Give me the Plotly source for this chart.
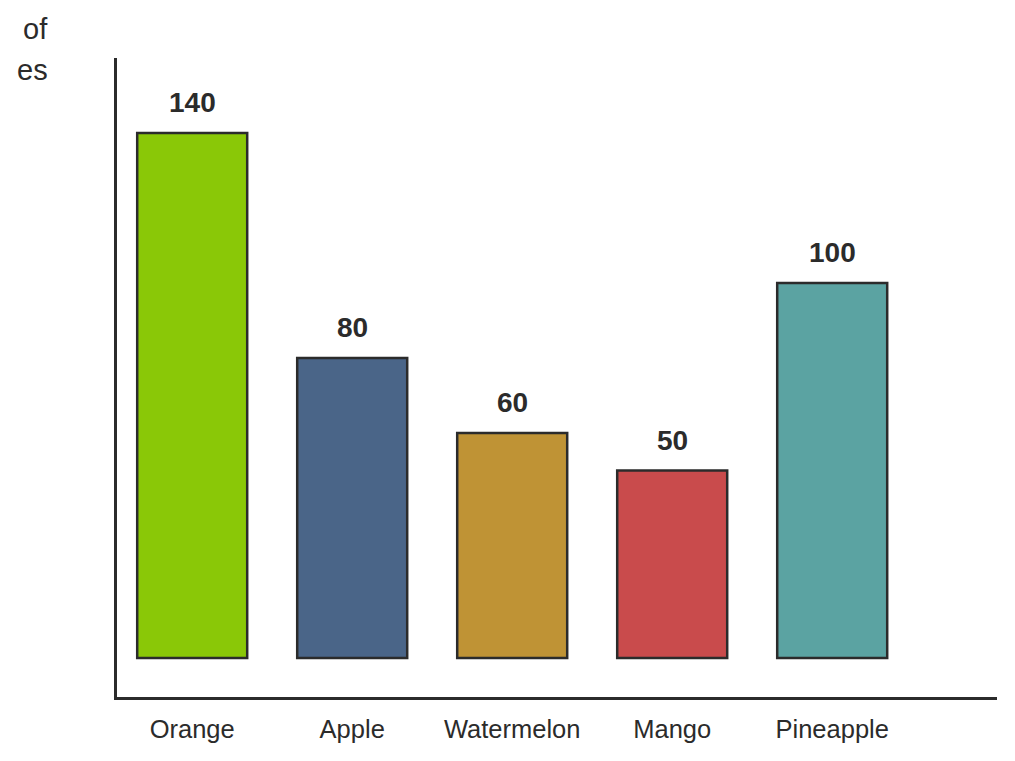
import plotly.graph_objects as go

categories = ["Orange", "Apple", "Watermelon", "Mango", "Pineapple"]
values = [140, 80, 60, 50, 100]
colors = ["#8ac807", "#4a6588", "#bf9335", "#c94b4c", "#5ba3a2"]
# y-axis title as visible in the reference (left part is cut off there)
title_lines = ["of", "es"]

FONT = "Liberation Sans, Arial"
fig = go.Figure()
fig.add_trace(go.Bar(
    x=categories, y=values,
    marker=dict(color=colors, line=dict(color="#2b2b2b", width=2.5)),
    hoverinfo="skip",
))

for c, v in zip(categories, values):
    fig.add_annotation(x=c, y=v, text=f"<b>{v}</b>", showarrow=False,
                       yanchor="bottom", yshift=13,
                       font=dict(size=28, color="#2b2b2b", family=FONT))

fig.add_annotation(xref="paper", yref="paper", x=-0.0761, y=1.0 + 29/639,
                   text=title_lines[0], showarrow=False, xanchor="right", yanchor="middle",
                   font=dict(size=29, color="#2b2b2b", family=FONT))
fig.add_annotation(xref="paper", yref="paper", x=-0.0761, y=1.0 - 12/639,
                   text=title_lines[1], showarrow=False, xanchor="right", yanchor="middle",
                   font=dict(size=29, color="#2b2b2b", family=FONT))

fig.update_layout(
    width=1015, height=761,
    margin=dict(l=109, r=26, t=50, b=72),
    paper_bgcolor="white", plot_bgcolor="white",
    bargap=0.3125,
    showlegend=False,
    font=dict(family=FONT, color="#2b2b2b"),
    xaxis=dict(range=[-0.47, 5.03], showline=True, linecolor="#2b2b2b", linewidth=3,
               showgrid=False, zeroline=False, ticks="", ticklen=0,
               ticklabelstandoff=7,
               tickfont=dict(size=25.5, color="#2b2b2b")),
    yaxis=dict(range=[-10.4, 160], showline=True, linecolor="#2b2b2b", linewidth=3,
               showgrid=False, zeroline=False, showticklabels=False, ticks=""),
)

fig.write_html("out.html")
